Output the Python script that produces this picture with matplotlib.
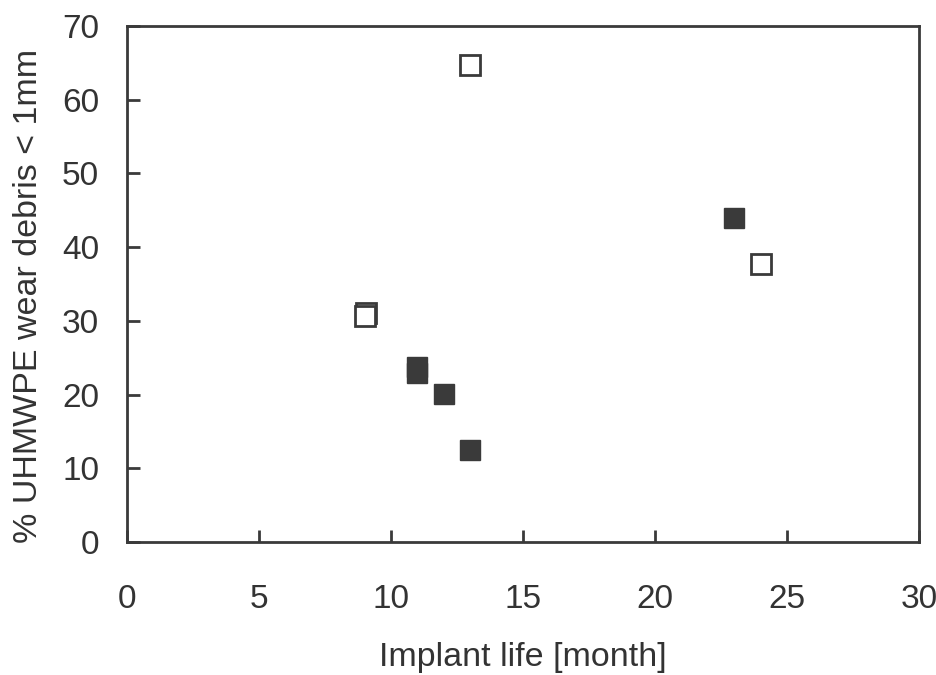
import matplotlib
matplotlib.use("Agg")
import matplotlib.pyplot as plt

filled_x = [11, 11, 12, 13, 23]
filled_y = [23.7, 22.9, 20.1, 12.5, 43.9]
open_x = [9.05, 9, 13, 24]
open_y = [31.1, 30.7, 64.7, 37.7]

x_ticks = [0, 5, 10, 15, 20, 25, 30]
y_ticks = [0, 10, 20, 30, 40, 50, 60, 70]

plt.rcParams['font.family'] = ['Liberation Sans', 'DejaVu Sans']
fig = plt.figure(figsize=(9.37, 6.75), dpi=100)
ax = fig.add_axes([127/937, 1-542/675, (919-127)/937, (542-26)/675])

c = '#3a3a3a'
ax.plot(filled_x, filled_y, linestyle='none', marker='s', markersize=14.5,
        markerfacecolor=c, markeredgecolor=c, markeredgewidth=1)
ax.plot(open_x, open_y, linestyle='none', marker='s', markersize=14.5,
        markerfacecolor='white', markeredgecolor=c, markeredgewidth=2)

ax.set_xlim(0, 30)
ax.set_ylim(0, 70)
ax.set_xticks(x_ticks)
ax.set_yticks(y_ticks)
for s in ax.spines.values():
    s.set_linewidth(2)
    s.set_color(c)
ax.tick_params(direction='in', length=9, width=2, color=c, labelsize=24,
               labelcolor='#333333')
ax.tick_params(axis='x', pad=30)
ax.tick_params(axis='y', pad=20)
ax.set_xlabel('Implant life [month]', fontsize=24.5, color='#333333', labelpad=19.5)
ax.set_ylabel('% UHMWPE wear debris < 1mm', fontsize=24.5, color='#333333',
              labelpad=13, y=0.477)

fig.savefig('out.png', dpi=100)
